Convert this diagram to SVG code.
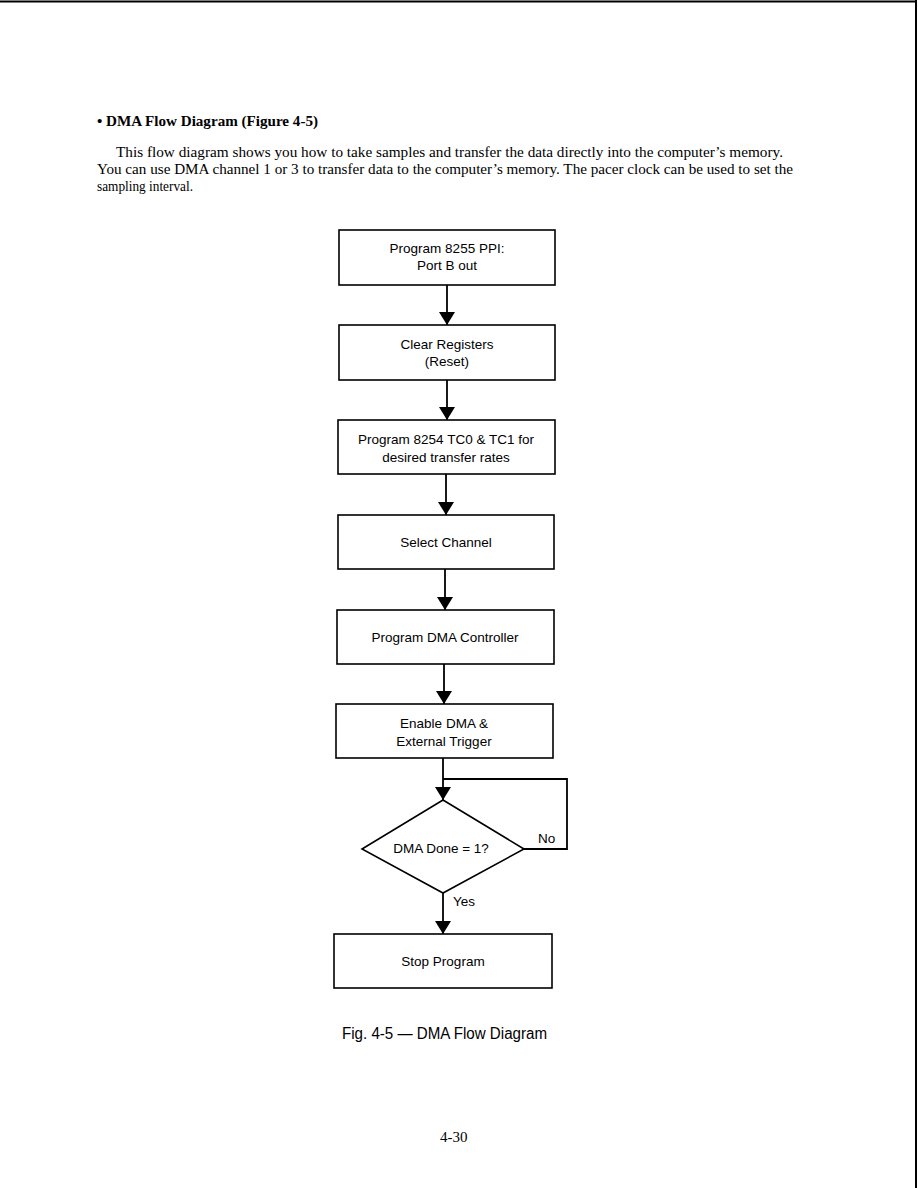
<svg xmlns="http://www.w3.org/2000/svg" width="918" height="1188" viewBox="0 0 918 1188">
<style>
.page{fill:#fff}
.box{fill:#fff;stroke:#000;stroke-width:1.6}
.ln{fill:none;stroke:#000;stroke-width:1.8}
.t{font-family:"Liberation Sans",Arial,sans-serif;font-size:13.5px;fill:#000;text-anchor:middle}
.lbl{font-family:"Liberation Sans",Arial,sans-serif;font-size:13.5px;fill:#000}
.body{font-family:"Liberation Serif","Times New Roman",serif;font-size:15px;fill:#000}
.cap{font-family:"Liberation Sans",Arial,sans-serif;font-size:16px;fill:#000}
</style>
<defs>
<marker id="ah" viewBox="0 0 13 16" refX="13" refY="8" markerWidth="13" markerHeight="16" markerUnits="userSpaceOnUse" orient="auto">
<path d="M0,0 L13,8 L0,16 Z" fill="#000"/>
</marker>
</defs>
<rect class="page" x="0" y="0" width="918" height="1188"/>
<line x1="0" y1="1.5" x2="917" y2="1.5" stroke="#000" stroke-width="2"/>
<line x1="916" y1="0" x2="916" y2="1188" stroke="#000" stroke-width="2"/>

<text class="body" x="97" y="126" font-weight="bold" font-size="16" textLength="221" lengthAdjust="spacingAndGlyphs">• DMA Flow Diagram (Figure 4-5)</text>
<text class="body" x="116" y="157" textLength="667" lengthAdjust="spacingAndGlyphs">This flow diagram shows you how to take samples and transfer the data directly into the computer’s memory.</text>
<text class="body" x="97" y="174" textLength="696" lengthAdjust="spacingAndGlyphs">You can use DMA channel 1 or 3 to transfer data to the computer’s memory. The pacer clock can be used to set the</text>
<text class="body" x="97" y="191" textLength="96" lengthAdjust="spacingAndGlyphs">sampling interval.</text>

<g id="connectors">
<line class="ln" x1="447" y1="285" x2="447" y2="325" marker-end="url(#ah)"/>
<line class="ln" x1="447" y1="380" x2="447" y2="420" marker-end="url(#ah)"/>
<line class="ln" x1="446" y1="474" x2="446" y2="515" marker-end="url(#ah)"/>
<line class="ln" x1="445" y1="569" x2="445" y2="610" marker-end="url(#ah)"/>
<line class="ln" x1="444" y1="664" x2="444" y2="704" marker-end="url(#ah)"/>
<line class="ln" x1="443" y1="758" x2="443" y2="800" marker-end="url(#ah)"/>
<polyline class="ln" points="524,849 567,849 567,779 443,779"/>
<line class="ln" x1="443" y1="893" x2="443" y2="934" marker-end="url(#ah)"/>
<text class="lbl" x="538" y="843">No</text>
<text class="lbl" x="453" y="906">Yes</text>
</g>

<g id="n1">
<rect class="box" x="339" y="230" width="216" height="55"/>
<text class="t" x="447" y="253">Program 8255 PPI:</text>
<text class="t" x="447" y="270">Port B out</text>
</g>
<g id="n2">
<rect class="box" x="339" y="325" width="216" height="55"/>
<text class="t" x="447" y="349">Clear Registers</text>
<text class="t" x="447" y="366">(Reset)</text>
</g>
<g id="n3">
<rect class="box" x="338" y="420" width="217" height="54"/>
<text class="t" x="446" y="444">Program 8254 TC0 &amp; TC1 for</text>
<text class="t" x="446" y="462">desired transfer rates</text>
</g>
<g id="n4">
<rect class="box" x="338" y="515" width="216" height="54"/>
<text class="t" x="446" y="547">Select Channel</text>
</g>
<g id="n5">
<rect class="box" x="337" y="610" width="217" height="54"/>
<text class="t" x="445" y="642">Program DMA Controller</text>
</g>
<g id="n6">
<rect class="box" x="336" y="704" width="217" height="54"/>
<text class="t" x="444" y="728">Enable DMA &amp;</text>
<text class="t" x="444" y="746">External Trigger</text>
</g>
<g id="n7">
<polygon class="box" points="443,800 524,849 443,893 362,849"/>
<text class="t" x="441" y="853">DMA Done = 1?</text>
</g>
<g id="n8">
<rect class="box" x="334" y="934" width="218" height="54"/>
<text class="t" x="443" y="966">Stop Program</text>
</g>

<text class="cap" x="342" y="1039" textLength="205" lengthAdjust="spacingAndGlyphs">Fig. 4-5 — DMA Flow Diagram</text>
<text class="body" x="440" y="1142" font-size="15">4-30</text>
</svg>
